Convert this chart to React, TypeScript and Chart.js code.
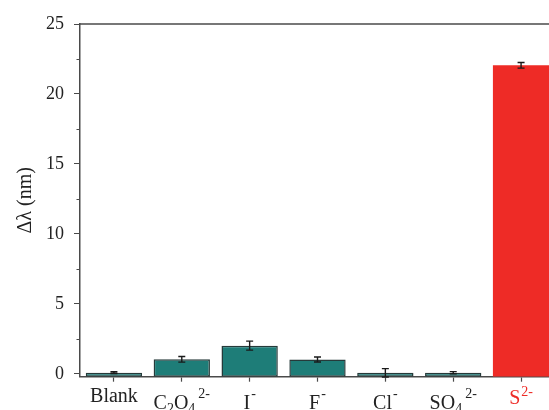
import React, { useEffect, useRef } from "react";
import { Chart, registerables } from "chart.js";

Chart.register(...registerables);

const categories = ["Blank", "C₂O₄²⁻", "I⁻", "F⁻", "Cl⁻", "SO₄²⁻", "S²⁻"];
const values = [0.09, 1.04, 2.02, 1.03, 0.08, 0.08, 22.05];
const errors = [0.06, 0.2, 0.32, 0.18, 0.3, 0.08, 0.2];
const yTicks = [0, 2.5, 5, 7.5, 10, 12.5, 15, 17.5, 20, 22.5, 25];

const TEAL = "#1e7d78";
const RED = "#ee2b26";
const AXIS = "#4a4a4a";
const FONT = "'Liberation Serif', 'Times New Roman', serif";

const SUB = "₀₁₂₃₄₅₆₇₈₉";
const SUP = "⁰¹²³⁴⁵⁶⁷⁸⁹";

function parseLabel(label: string) {
  const parts: { t: string; s: "n" | "sub" | "sup" }[] = [];
  for (const ch of label) {
    let t = ch;
    let s: "n" | "sub" | "sup" = "n";
    if (SUB.includes(ch)) {
      t = String(SUB.indexOf(ch));
      s = "sub";
    } else if (SUP.includes(ch)) {
      t = String(SUP.indexOf(ch));
      s = "sup";
    } else if (ch === "⁻") {
      t = "-";
      s = "sup";
    }
    const last = parts[parts.length - 1];
    if (last && last.s === s) last.t += t;
    else parts.push({ t, s });
  }
  return parts;
}

const richLabelPlugin = {
  id: "richLabels",
  afterDraw(chart: any) {
    const { ctx } = chart;
    const x = chart.scales.x;
    const axisY = x.top;
    ctx.save();
    ctx.textBaseline = "alphabetic";
    ctx.textAlign = "left";
    categories.forEach((label, i) => {
      const parts = parseLabel(label);
      const hasSup = parts.some((p) => p.s !== "n");
      const isLast = i === categories.length - 1;
      const baseY = axisY + 25 + (hasSup ? (isLast ? 2.5 : 7) : 0);
      const fontFor = (s: string) => (s === "n" ? `20px ${FONT}` : `14px ${FONT}`);
      let total = 0;
      const widths = parts.map((p, k) => {
        ctx.font = fontFor(p.s);
        const gap = p.s === "sup" && k > 0 && parts[k - 1].s === "sub" ? 3 : p.s === "sup" ? 1 : 0;
        const w = ctx.measureText(p.t).width + gap;
        total += w;
        return { w, gap };
      });
      let cx = x.getPixelForTick(i) - total / 2;
      ctx.fillStyle = isLast ? RED : "#222";
      parts.forEach((p, k) => {
        ctx.font = fontFor(p.s);
        const dy = p.s === "sub" ? 4 : p.s === "sup" ? (isLast ? -8 : -11) : 0;
        ctx.fillText(p.t, cx + widths[k].gap, baseY + dy);
        cx += widths[k].w;
      });
    });
    ctx.restore();
  },
};

const errorBarPlugin = {
  id: "errorBars",
  afterDatasetsDraw(chart: any) {
    const meta = chart.getDatasetMeta(0);
    const y = chart.scales.y;
    const ctx = chart.ctx;
    ctx.save();
    ctx.strokeStyle = "#1a1a1a";
    ctx.lineWidth = 1.4;
    meta.data.forEach((bar: any, i: number) => {
      const x = bar.x;
      const top = y.getPixelForValue(values[i] + errors[i]);
      const bot = y.getPixelForValue(values[i] - errors[i]);
      const cap = 3.5;
      ctx.beginPath();
      ctx.moveTo(x, top);
      ctx.lineTo(x, bot);
      ctx.moveTo(x - cap, top);
      ctx.lineTo(x + cap, top);
      ctx.moveTo(x - cap, bot);
      ctx.lineTo(x + cap, bot);
      ctx.stroke();
    });
    ctx.restore();
  },
  afterDraw(chart: any) {
    const { ctx, chartArea } = chart;
    const y = chart.scales.y;
    ctx.save();
    ctx.strokeStyle = AXIS;
    ctx.lineWidth = 1.5;
    ctx.beginPath();
    ctx.moveTo(chartArea.left, chartArea.top);
    ctx.lineTo(chartArea.right, chartArea.top);
    ctx.stroke();
    ctx.lineWidth = 1;
    yTicks.forEach((v) => {
      if (v % 5 !== 0) {
        const py = Math.round(y.getPixelForValue(v)) + 0.5;
        ctx.beginPath();
        ctx.moveTo(chartArea.left - 3.5, py);
        ctx.lineTo(chartArea.left, py);
        ctx.stroke();
      }
    });
    ctx.restore();
  },
};

export default function App() {
  const ref = useRef<HTMLCanvasElement>(null);
  useEffect(() => {
    if (!ref.current) return;
    const chart = new Chart(ref.current, {
      type: "bar",
      data: {
        labels: categories,
        datasets: [
          {
            data: values,
            base: -0.2,
            backgroundColor: categories.map((_, i) => (i === categories.length - 1 ? RED : TEAL)),
            borderColor: categories.map((_, i) => (i === categories.length - 1 ? RED : "#263a3a")),
            borderWidth: categories.map((_, i) => (i === categories.length - 1 ? 0 : 1.5)),
            borderSkipped: false,
            categoryPercentage: 1,
            barPercentage: 0.83,
          } as any,
        ],
      },
      options: {
        responsive: false,
        animation: false,
        layout: { padding: { top: 24, left: 0, right: 1, bottom: 0 } },
        plugins: { legend: { display: false }, tooltip: { enabled: false } },
        scales: {
          x: {
            grid: {
              display: true,
              offset: false,
              drawOnChartArea: false,
              drawTicks: true,
              tickLength: 5,
              tickColor: AXIS,
              tickWidth: 1.2,
            },
            border: { display: true, color: AXIS, width: 1.5 },
            ticks: { display: false, autoSkip: false },
            afterFit: (s: any) => {
              s.height = 33.3;
            },
          },
          y: {
            min: -0.2,
            max: 25,
            afterBuildTicks: (s: any) => {
              s.ticks = yTicks.map((v) => ({ value: v }));
            },
            grid: {
              display: true,
              drawOnChartArea: false,
              drawTicks: true,
              tickLength: 6,
              tickWidth: 1,
              tickColor: (c: any) => (c.tick && c.tick.value % 5 === 0 ? AXIS : "rgba(0,0,0,0)"),
            },
            border: { display: true, color: AXIS, width: 1.5 },
            ticks: {
              padding: 10,
              font: { family: FONT, size: 18 },
              color: "#222",
              callback: (v: any) => (Number(v) % 5 === 0 ? String(v) : ""),
            },
            title: {
              display: true,
              text: "Δλ (nm)",
              font: { family: FONT, size: 20 },
              color: "#222",
              padding: { top: 14, bottom: 0 },
            },
            afterFit: (s: any) => {
              s.width = 80;
            },
          },
        },
      },
      plugins: [errorBarPlugin, richLabelPlugin],
    });
    return () => chart.destroy();
  }, []);
  return (
    <div style={{ position: "absolute", left: 0, top: 0, width: 549, height: 410, overflow: "hidden", background: "#fff" }}>
      <canvas ref={ref} width={556} height={410} style={{ display: "block" }} />
    </div>
  );
}
